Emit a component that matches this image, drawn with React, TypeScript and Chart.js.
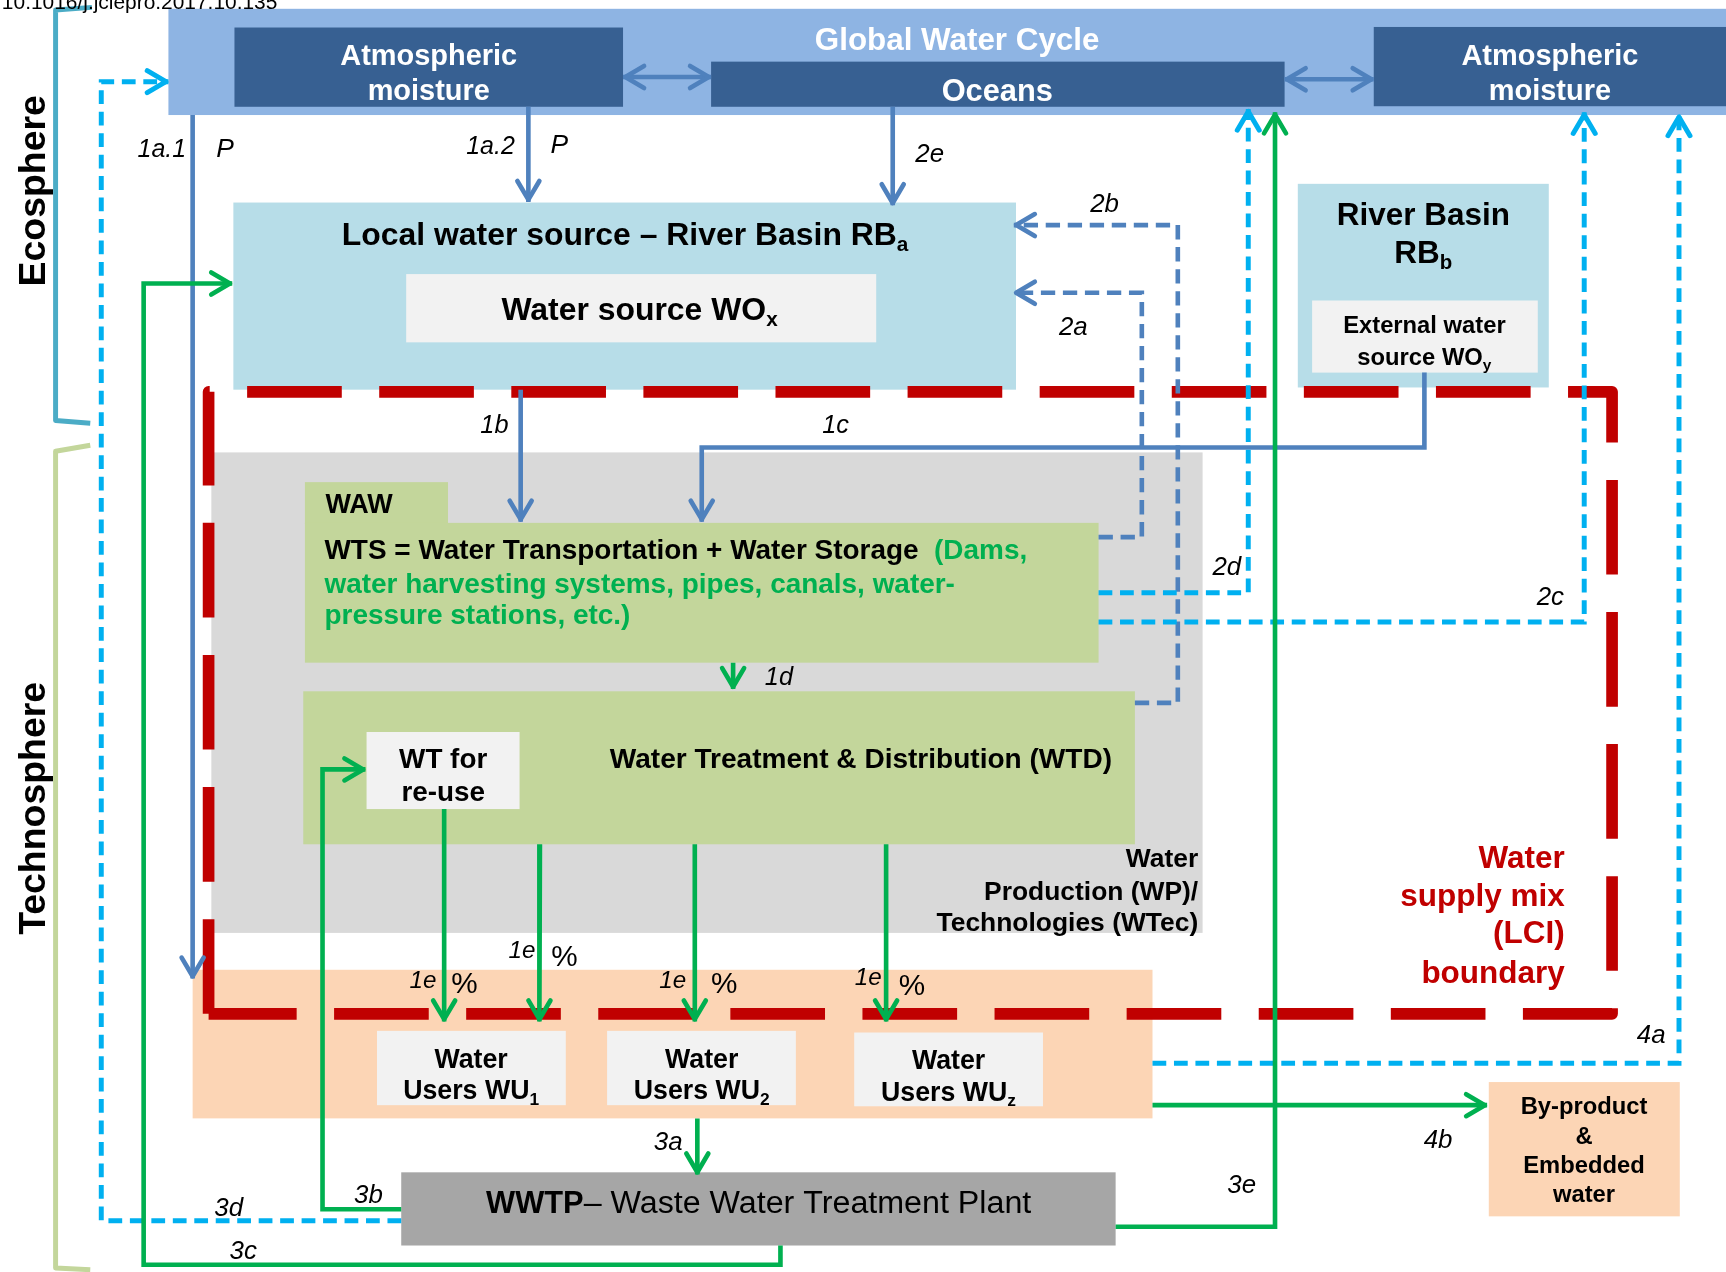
import React, { useEffect, useRef } from "react";
import { Chart, registerables } from "chart.js";

Chart.register(...registerables);

const CANVAS_W = 1726;
const CANVAS_H = 1272;
const SPAN_X = 1568;
const K = CANVAS_W / SPAN_X;
const SPAN_Y = CANVAS_H / K;
const FONT = "'Liberation Sans', Arial, Helvetica, sans-serif";

const palette: Record<string, string> = {
  band: "#8EB4E3",
  dark: "#376092",
  basin: "#B7DDE8",
  light: "#F2F2F2",
  wp: "#D9D9D9",
  green: "#C3D69B",
  peach: "#FCD5B5",
  wwtp: "#A6A6A6",
};

// Diagram nodes: [id, left, top, right, bottom, fill]
const nodes: [string, number, number, number, number, string][] = [
  ["globalCycle", 153, 8, 1568, 104.5, "band"],
  ["atmLeft", 213, 25, 566, 97, "dark"],
  ["oceans", 646, 56, 1167, 97, "dark"],
  ["atmRight", 1248, 24.5, 1568, 96.5, "dark"],
  ["riverBasinA", 212, 184, 923, 354, "basin"],
  ["sourceWOx", 369, 249, 796, 311, "light"],
  ["riverBasinB", 1179, 167, 1407, 352, "basin"],
  ["sourceWOy", 1192, 273, 1397, 338.5, "light"],
  ["waterProduction", 192, 411, 1092.5, 847.5, "wp"],
  ["wawTab", 277, 438, 407, 476, "green"],
  ["wts", 277, 475, 998, 602, "green"],
  ["wtd", 275.5, 628, 1031, 767, "green"],
  ["wtReuse", 333, 665, 472, 735, "light"],
  ["usersArea", 175, 881, 1047, 1016, "peach"],
  ["wu1", 342.5, 936.5, 514, 1004, "light"],
  ["wu2", 551.5, 936.5, 723, 1004, "light"],
  ["wuz", 776, 938, 947.5, 1005, "light"],
  ["wwtp", 364.5, 1065, 1013.5, 1131.5, "wwtp"],
  ["byProduct", 1352.5, 983, 1526, 1105, "peach"],
];

// Flows: [id, style, arrow head, points]
const flows: [string, string, string, [number, number][]][] = [
  ["boundary", "red", "none", [[189.5, 921], [189.5, 356], [1464.5, 356], [1464.5, 921], [189.5, 921]]],
  ["ecosphere", "eco", "none", [[83.5, 6.7], [50.5, 9], [50.5, 382], [82, 384.5]]],
  ["technosphere", "techno", "none", [[82, 404.5], [50.5, 410], [50.5, 1152], [82, 1153.5]]],
  ["1a.1", "blue", "end", [[175, 104.5], [175, 889]]],
  ["1a.2", "blue", "end", [[480, 97], [480, 183.5]]],
  ["2e", "blue", "end", [[811, 97], [811, 186.5]]],
  ["1b", "blue", "end", [[473, 354], [473, 474]]],
  ["1c", "blue", "end", [[1294, 338.5], [1294, 406.5], [637.5, 406.5], [637.5, 474]]],
  ["atmOcean", "blue", "both", [[566, 70], [646, 70]]],
  ["oceanAtm", "blue", "both", [[1167, 72], [1248, 72]]],
  ["2a", "blueDash", "end", [[998, 488], [1037.3, 488], [1037.3, 266], [921, 266]]],
  ["2b", "blueDash", "end", [[1031, 638.5], [1070, 638.5], [1070, 204.5], [921, 204.5]]],
  ["2d", "cyan", "end", [[998, 538.5], [1134, 538.5], [1134, 99]]],
  ["2c", "cyan", "end", [[998, 565], [1439.2, 565], [1439.2, 102]]],
  ["4a", "cyan", "end", [[1047, 966], [1525.3, 966], [1525.3, 104]]],
  ["3d", "cyan", "end", [[364.5, 1109], [92, 1109], [92, 74.2], [153, 74.2]]],
  ["1d", "green", "end", [[666, 602], [666, 626]]],
  ["1e-1", "green", "end", [[403.5, 735], [403.5, 928]]],
  ["1e-2", "green", "end", [[490.5, 767], [490, 928]]],
  ["1e-3", "green", "end", [[631.2, 767], [631.2, 928]]],
  ["1e-4", "green", "end", [[805, 767], [805, 928]]],
  ["3a", "green", "end", [[633.5, 1016], [633.5, 1067]]],
  ["3b", "green", "end", [[364.5, 1098.5], [293, 1098.5], [293, 699], [332, 699]]],
  ["3c", "green", "end", [[709, 1131.5], [709, 1149], [130.5, 1149], [130.5, 257.5], [211, 257.5]]],
  ["3e", "green", "end", [[1013.5, 1114.5], [1158.3, 1114.5], [1158.3, 102]]],
  ["4b", "green", "end", [[1047, 1004], [1351, 1004]]],
];

const lineStyles: Record<string, { color: string; width: number; dash: number[]; join: string }> = {
  red: { color: "#C00000", width: 10.6, dash: [86, 34], join: "round" },
  eco: { color: "#4BACC6", width: 4.5, dash: [], join: "round" },
  techno: { color: "#C3D69B", width: 4.5, dash: [], join: "round" },
  blue: { color: "#4F81BD", width: 4.2, dash: [], join: "miter" },
  blueDash: { color: "#4F81BD", width: 4.2, dash: [13, 7], join: "miter" },
  cyan: { color: "#00B0F0", width: 4.5, dash: [12.5, 7], join: "miter" },
  green: { color: "#00B050", width: 4.2, dash: [], join: "miter" },
};

type Run = { t: string; b?: boolean; i?: boolean; c?: string; sub?: boolean; s?: number };

const WHITE = "#FFFFFF";
const GREEN = "#00B050";
const RED = "#C00000";

// Node texts: [x, baseline, size, align, runs, rotated]
const nodeTexts: [number, number, number, string, Run[], boolean?][] = [
  [1.7, 8, 19, "left", [{ t: "10.1016/j.jclepro.2017.10.135" }]],
  [869.5, 45.4, 28.5, "center", [{ t: "Global Water Cycle", b: true, c: WHITE }]],
  [389.5, 59, 26.3, "center", [{ t: "Atmospheric", b: true, c: WHITE }]],
  [389.5, 90.8, 26.3, "center", [{ t: "moisture", b: true, c: WHITE }]],
  [906, 91.4, 28, "center", [{ t: "Oceans", b: true, c: WHITE }]],
  [1408, 59, 26.3, "center", [{ t: "Atmospheric", b: true, c: WHITE }]],
  [1408, 90.8, 26.3, "center", [{ t: "moisture", b: true, c: WHITE }]],
  [310.5, 222.6, 29, "left", [{ t: "Local water source – River Basin RB", b: true }, { t: "a", b: true, sub: true }]],
  [455.5, 290.5, 29, "left", [{ t: "Water source WO", b: true }, { t: "x", b: true, sub: true }]],
  [1293, 204.5, 28.6, "center", [{ t: "River Basin", b: true }]],
  [1293, 239, 28.6, "center", [{ t: "RB", b: true }, { t: "b", b: true, sub: true }]],
  [1294, 302.8, 21.6, "center", [{ t: "External water", b: true }]],
  [1294, 332, 21.6, "center", [{ t: "source WO", b: true }, { t: "y", b: true, sub: true }]],
  [295.6, 466.4, 24.5, "left", [{ t: "WAW", b: true }]],
  [294.8, 508, 25.4, "left", [{ t: "WTS = Water Transportation + Water Storage  ", b: true }, { t: "(Dams,", b: true, c: GREEN }]],
  [294.8, 538.4, 25.4, "left", [{ t: "water harvesting systems, pipes, canals, water-", b: true, c: GREEN }]],
  [294.8, 567, 25.4, "left", [{ t: "pressure stations, etc.)", b: true, c: GREEN }]],
  [554, 698, 25.5, "left", [{ t: "Water Treatment & Distribution (WTD)", b: true }]],
  [402.6, 698, 25.3, "center", [{ t: "WT for", b: true }]],
  [402.6, 727.7, 25.3, "center", [{ t: "re-use", b: true }]],
  [1088.5, 787.3, 24, "right", [{ t: "Water", b: true }]],
  [1088.5, 817.6, 24, "right", [{ t: "Production (WP)/", b: true }]],
  [1088.5, 845.5, 24, "right", [{ t: "Technologies (WTec)", b: true }]],
  [1421.5, 788.8, 28.6, "right", [{ t: "Water", b: true, c: RED }]],
  [1421.5, 822.7, 28.6, "right", [{ t: "supply mix", b: true, c: RED }]],
  [1421.5, 857, 28.6, "right", [{ t: "(LCI)", b: true, c: RED }]],
  [1421.5, 892.7, 28.6, "right", [{ t: "boundary", b: true, c: RED }]],
  [428, 970, 24.3, "center", [{ t: "Water", b: true }]],
  [428, 998.7, 24.3, "center", [{ t: "Users WU", b: true }, { t: "1", b: true, sub: true }]],
  [637.5, 970, 24.3, "center", [{ t: "Water", b: true }]],
  [637.5, 998.7, 24.3, "center", [{ t: "Users WU", b: true }, { t: "2", b: true, sub: true }]],
  [861.7, 971.5, 24.3, "center", [{ t: "Water", b: true }]],
  [861.7, 1000.2, 24.3, "center", [{ t: "Users WU", b: true }, { t: "z", b: true, sub: true }]],
  [441.6, 1101.6, 28, "left", [{ t: "WWTP", b: true }, { t: "– Waste Water Treatment Plant", s: 1.046 }]],
  [1439, 1012, 21.6, "center", [{ t: "By-product", b: true }]],
  [1439, 1039, 21.6, "center", [{ t: "&", b: true }]],
  [1439, 1066, 21.6, "center", [{ t: "Embedded", b: true }]],
  [1439, 1091.6, 21.6, "center", [{ t: "water", b: true }]],
  [41, 173.3, 34, "center", [{ t: "Ecosphere", b: true }], true],
  [41, 734.4, 34, "center", [{ t: "Technosphere", b: true }], true],
];

// Flow labels: [text, x, baseline, size, italic]
const flowLabels: [string, number, number, number, boolean][] = [
  ["1a.1", 125, 142.3, 22.7, true],
  ["P", 196.4, 142.3, 24, true],
  ["1a.2", 423.5, 139.9, 22.7, true],
  ["P", 500, 138.7, 24, true],
  ["2e", 831.5, 146.9, 23.5, true],
  ["2b", 990.4, 192.3, 23.5, true],
  ["2a", 962, 304.3, 23.5, true],
  ["1b", 436.4, 393.6, 23, true],
  ["1c", 747, 393.6, 23, true],
  ["2d", 1101.5, 522.4, 23.5, true],
  ["2c", 1396, 549.7, 23.5, true],
  ["1d", 694.8, 622.3, 23, true],
  ["1e", 372, 898, 22, true],
  ["%", 410, 902, 27, false],
  ["1e", 462, 870.6, 22, true],
  ["%", 500.7, 878, 27, false],
  ["1e", 599, 897.9, 22, true],
  ["%", 646, 902.4, 27, false],
  ["1e", 776.5, 894.8, 22, true],
  ["%", 816.5, 903.9, 27, false],
  ["3a", 594, 1044.7, 23.5, true],
  ["3b", 321.6, 1093, 23.5, true],
  ["3d", 194.7, 1105, 23.5, true],
  ["3c", 208.6, 1144, 23.5, true],
  ["3e", 1115, 1083.4, 23.5, true],
  ["4a", 1487, 947.8, 23.5, true],
  ["4b", 1293.4, 1043.2, 23.5, true],
];

function fontStr(r: Run, size: number) {
  return `${r.i ? "italic " : ""}${r.b ? "bold " : ""}${size}px ${FONT}`;
}

function runSize(r: Run, size: number) {
  return size * (r.s || 1) * (r.sub ? 0.65 : 1);
}

function drawRuns(ctx: CanvasRenderingContext2D, runs: Run[], x: number, y: number, align: string, size: number) {
  const widths: number[] = [];
  let total = 0;
  for (const r of runs) {
    ctx.font = fontStr(r, runSize(r, size));
    const w = ctx.measureText(r.t).width;
    widths.push(w);
    total += w;
  }
  let cx = align === "center" ? x - total / 2 : align === "right" ? x - total : x;
  runs.forEach((r, idx) => {
    ctx.font = fontStr(r, runSize(r, size));
    ctx.fillStyle = r.c || "#000000";
    ctx.fillText(r.t, cx, y + (r.sub ? size * 0.2 : 0));
    cx += widths[idx];
  });
}

const diagramPlugin = {
  id: "waterDiagram",
  beforeDatasetsDraw(chart: any) {
    const ctx: CanvasRenderingContext2D = chart.ctx;
    const sx = chart.scales.x;
    const sy = chart.scales.y;
    ctx.save();
    for (const [, l, t, r, b, fill] of nodes) {
      const x1 = sx.getPixelForValue(l);
      const x2 = sx.getPixelForValue(r);
      const y1 = sy.getPixelForValue(t);
      const y2 = sy.getPixelForValue(b);
      ctx.fillStyle = palette[fill];
      ctx.fillRect(x1, y1, x2 - x1, y2 - y1);
    }
    ctx.restore();
  },
  afterDatasetsDraw(chart: any) {
    const ctx: CanvasRenderingContext2D = chart.ctx;
    const sx = chart.scales.x;
    const sy = chart.scales.y;
    ctx.save();
    // arrow heads
    for (const [, style, head, pts] of flows) {
      if (head === "none") continue;
      const s = lineStyles[style];
      const P = pts.map(([x, y]) => [sx.getPixelForValue(x), sy.getPixelForValue(y)]);
      const ends: number[][][] = [[P[P.length - 1], P[P.length - 2]]];
      if (head === "both") ends.push([P[0], P[1]]);
      const w = s.width * K;
      for (const [tip, from] of ends) {
        const dx = tip[0] - from[0];
        const dy = tip[1] - from[1];
        const len = Math.hypot(dx, dy) || 1;
        const ux = dx / len;
        const uy = dy / len;
        const L = 17 * K;
        const Hw = 10 * K;
        const vx = tip[0] - ux * w * 0.5;
        const vy = tip[1] - uy * w * 0.5;
        ctx.beginPath();
        ctx.moveTo(vx - ux * L - uy * Hw, vy - uy * L + ux * Hw);
        ctx.lineTo(vx, vy);
        ctx.lineTo(vx - ux * L + uy * Hw, vy - uy * L - ux * Hw);
        ctx.setLineDash([]);
        ctx.lineWidth = w;
        ctx.strokeStyle = s.color;
        ctx.lineCap = "round";
        ctx.lineJoin = "round";
        ctx.stroke();
      }
    }
    ctx.textBaseline = "alphabetic";
    ctx.textAlign = "left";
    // node texts
    for (const [x, y, size, align, runs, rot] of nodeTexts) {
      const px = sx.getPixelForValue(x);
      const py = sy.getPixelForValue(y);
      if (rot) {
        ctx.save();
        ctx.translate(px, py);
        ctx.rotate(-Math.PI / 2);
        drawRuns(ctx, runs, 0, 0, align, size * K);
        ctx.restore();
      } else {
        drawRuns(ctx, runs, px, py, align, size * K);
      }
    }
    // flow labels
    for (const [t, x, y, size, italic] of flowLabels) {
      drawRuns(ctx, [{ t, i: italic }], sx.getPixelForValue(x), sy.getPixelForValue(y), "left", size * K);
    }
    ctx.restore();
  },
};

export default function App() {
  const ref = useRef<HTMLCanvasElement>(null);
  useEffect(() => {
    const canvas = ref.current;
    if (!canvas) return;
    const datasets = flows.map(([id, style, , pts], i) => {
      const s = lineStyles[style];
      return {
        label: id,
        data: pts.map(([x, y]) => ({ x, y })),
        showLine: true,
        borderColor: s.color,
        backgroundColor: s.color,
        borderWidth: s.width * K,
        borderDash: s.dash.map((d) => d * K),
        borderJoinStyle: s.join,
        borderCapStyle: "butt",
        pointRadius: 0,
        pointHoverRadius: 0,
        pointHitRadius: 0,
        tension: 0,
        fill: false,
        order: flows.length - i,
      };
    });
    const chart = new Chart(canvas, {
      type: "scatter",
      data: { datasets } as any,
      options: {
        animation: false,
        responsive: false,
        events: [],
        layout: { padding: 0 },
        scales: {
          x: { type: "linear", min: 0, max: SPAN_X, display: false },
          y: { type: "linear", min: 0, max: SPAN_Y, reverse: true, display: false },
        },
        plugins: {
          legend: { display: false },
          tooltip: { enabled: false },
          title: { display: false },
        },
      } as any,
      plugins: [diagramPlugin as any],
    });
    return () => chart.destroy();
  }, []);
  return (
    <div style={{ position: "fixed", left: 0, top: 0, width: CANVAS_W, height: CANVAS_H, background: "#FFFFFF" }}>
      <canvas
        ref={ref}
        width={CANVAS_W}
        height={CANVAS_H}
        style={{ width: CANVAS_W, height: CANVAS_H, display: "block" }}
      />
    </div>
  );
}
